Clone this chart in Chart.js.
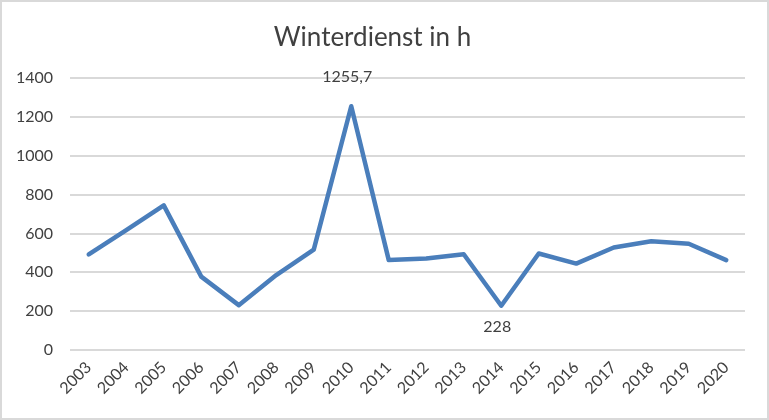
<!DOCTYPE html>
<html>
<head>
<meta charset="utf-8">
<script src="https://cdn.jsdelivr.net/npm/chart.js@4.4.1/dist/chart.umd.min.js"></script>
<style>
  html, body { margin: 0; padding: 0; background: #fff; }
  #wrap { width: 769px; height: 420px; }
</style>
</head>
<body>
<div id="wrap"><canvas id="winterChart"></canvas></div>
<script>
// Werte
const jahre = ['2003', '2004', '2005', '2006', '2007', '2008', '2009', '2010', '2011',
  '2012', '2013', '2014', '2015', '2016', '2017', '2018', '2019', '2020'];
const stunden = [492, 617, 745, 378, 231, 386, 517, 1255.7, 463,
  471, 493, 228, 497, 445, 528, 560, 547, 463];
const yTicks = [0, 200, 400, 600, 800, 1000, 1200, 1400];
// Beschriftete Punkte: Index -> Text, oben/unten
const labelIndex = [7, 11];
const labelText = ['1255,7', '228'];
const labelPos = ['above', 'below'];

const FONT = 'Lato, "Open Sans", sans-serif';

// Rahmen um das ganze Diagramm
const rahmen = {
  id: 'rahmen',
  beforeDraw(chart) {
    const c = chart.ctx;
    c.save();
    c.fillStyle = '#fff';
    c.fillRect(0, 0, chart.width, chart.height);
    c.strokeStyle = '#d9d9d9';
    c.lineWidth = 2;
    c.strokeRect(1, 1, chart.width - 2, chart.height - 2);
    c.restore();
  }
};

// Datenbeschriftungen fuer Maximum und Minimum
const punktLabels = {
  id: 'punktLabels',
  afterDatasetsDraw(chart) {
    const meta = chart.getDatasetMeta(0);
    const c = chart.ctx;
    c.save();
    c.font = '16px ' + FONT;
    c.fillStyle = '#404040';
    c.textAlign = 'center';
    c.textBaseline = 'middle';
    labelIndex.forEach((idx, i) => {
      const pt = meta.data[idx];
      const dy = labelPos[i] === 'above' ? -29 : 21;
      c.fillText(labelText[i], pt.x - 4, pt.y + dy);
    });
    c.restore();
  }
};

new Chart(document.getElementById('winterChart'), {
  type: 'line',
  data: {
    labels: jahre,
    datasets: [{
      label: 'Winterdienst in h',
      data: stunden,
      borderColor: '#4a7ebb',
      borderWidth: 4.5,
      pointRadius: 0,
      fill: false,
      tension: 0,
      borderJoinStyle: 'round',
      borderCapStyle: 'round'
    }]
  },
  options: {
    responsive: true,
    maintainAspectRatio: false,
    animation: false,
    layout: { padding: { left: 0, right: 24, top: 0, bottom: 0 } },
    plugins: {
      legend: { display: false },
      tooltip: { enabled: false },
      title: {
        display: true,
        text: 'Winterdienst in h',
        color: '#404040',
        font: { family: FONT, size: 26, weight: 'normal' },
        padding: { top: 22, bottom: 25 }
      }
    },
    scales: {
      x: {
        offset: true,
        grid: { display: false, drawTicks: false },
        border: { display: false },
        ticks: {
          color: '#404040',
          font: { family: FONT, size: 16 },
          minRotation: 45,
          maxRotation: 45,
          autoSkip: false,
          padding: 8
        },
        afterFit(scale) { scale.height = 70; }
      },
      y: {
        min: 0,
        max: 1400,
        afterBuildTicks(scale) { scale.ticks = yTicks.map(v => ({ value: v })); },
        grid: { color: '#d9d9d9', lineWidth: 2, drawTicks: false },
        border: { display: false },
        ticks: {
          color: '#404040',
          font: { family: FONT, size: 16 },
          padding: 17,
          callback: v => String(v)
        },
        afterFit(scale) { scale.width = 70; }
      }
    }
  },
  plugins: [rahmen, punktLabels]
});
</script>
</body>
</html>
